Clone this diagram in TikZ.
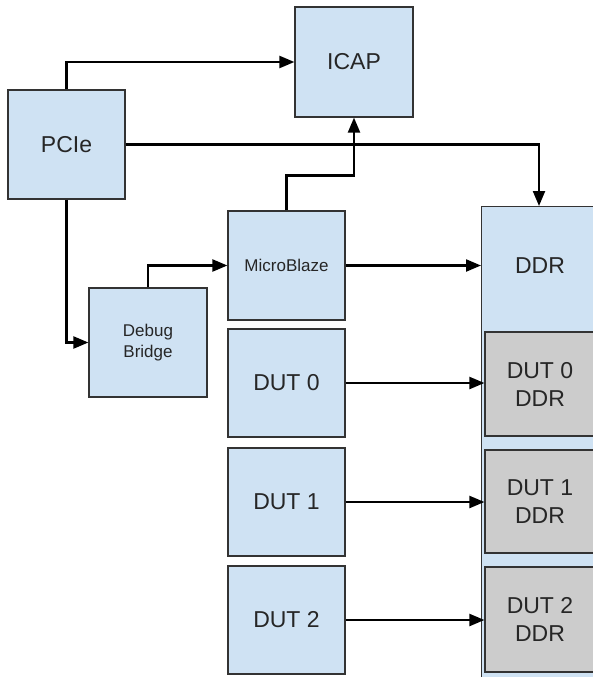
\documentclass[tikz,border=0pt]{standalone}
\usepackage{fontspec}
\setmainfont{Liberation Sans}
\usetikzlibrary{arrows.meta}
\definecolor{boxblue}{HTML}{CFE2F3}
\definecolor{boxgray}{HTML}{CCCCCC}
\definecolor{edge}{HTML}{333333}
\begin{document}
\begin{tikzpicture}[x=1pt,y=-1pt,
  box/.style={draw=edge, line width=1.2pt, fill=boxblue, inner sep=0pt, align=center, font=\fontsize{23}{28}\selectfont, text=black!85},
  grbox/.style={box, fill=boxgray},
  small/.style={font=\fontsize{17}{21}\selectfont},
  conn/.style={draw=black, line width=2.2pt, -{Triangle[length=15pt,width=12pt]}}]
\clip (0,0) rectangle (593,677);
\fill[white] (0,0) rectangle (593,677);
\node[box, minimum width=117, minimum height=109] (pcie) at (66.5,144.5) {PCIe};
\node[box, minimum width=118, minimum height=110] (icap) at (354,62) {ICAP};
\node[box, small, minimum width=117, minimum height=109] (mb) at (286.5,265.5) {MicroBlaze};
\node[box, small, minimum width=118, minimum height=109] (dbg) at (148,342.5) {Debug\\Bridge};
\node[box, minimum width=117, minimum height=108] (dut0) at (286.5,383) {DUT 0};
\node[box, minimum width=117, minimum height=108] (dut1) at (286.5,502) {DUT 1};
\node[box, minimum width=117, minimum height=108] (dut2) at (286.5,620) {DUT 2};
\node[box, minimum width=118, minimum height=494, anchor=north west] (ddr) at (481,206) {};
\node[font=\fontsize{23}{28}\selectfont, text=black!85, inner sep=0pt] (ddrlabel) at (540,266) {DDR};
\node[grbox, minimum width=110, minimum height=104] (dd0) at (540,384) {DUT 0\\DDR};
\node[grbox, minimum width=110, minimum height=103] (dd1) at (540,501.5) {DUT 1\\DDR};
\node[grbox, minimum width=110, minimum height=105] (dd2) at (540,619.5) {DUT 2\\DDR};
\coordinate (ddrtop) at (539,206);
\draw[conn] (pcie.north) |- (icap.west);
\draw[conn] (pcie.east) -| (ddrtop);
\draw[conn] (mb.north) -- ++(0,-35) -| (icap.south);
\draw[conn] (pcie.south) |- (dbg.west);
\draw[conn] (dbg.north) |- (mb.west);
\draw[conn] (mb.east) -- (mb.east -| ddr.west);
\draw[conn] (dut0.east) -- (dut0.east -| dd0.west);
\draw[conn] (dut1.east) -- (dut1.east -| dd1.west);
\draw[conn] (dut2.east) -- (dut2.east -| dd2.west);
\end{tikzpicture}
\end{document}
